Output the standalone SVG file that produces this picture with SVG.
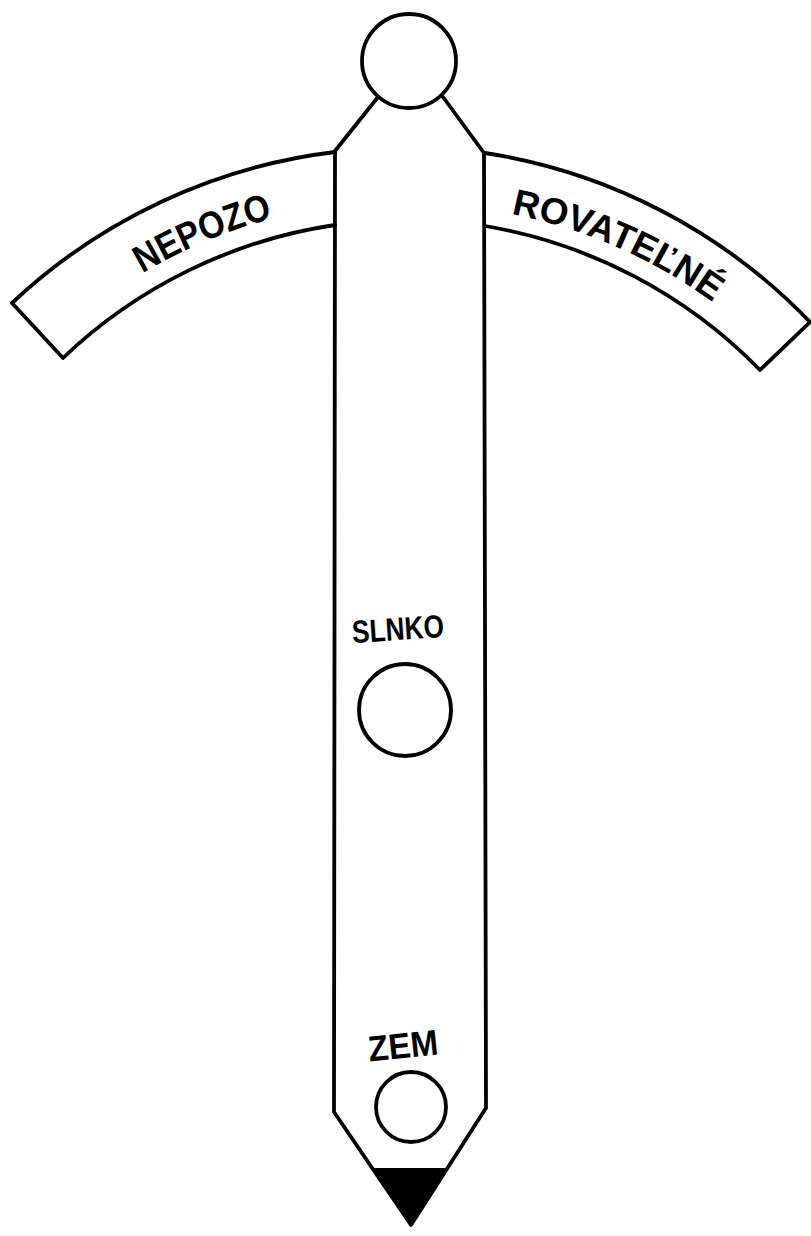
<svg xmlns="http://www.w3.org/2000/svg" width="811" height="1236" viewBox="0 0 811 1236">
<style>
.ln{fill:none;stroke:#000;stroke-width:3.8;stroke-linejoin:round;stroke-linecap:round}
.lbl{font-family:"Liberation Sans",Arial,sans-serif;font-weight:bold;fill:#000}
</style>
<defs>
<path id="baseL" d="M -44.7 462.5 A 525 525 0 0 1 864.7 462.5"/>
<path id="baseR" d="M -36.9 462 A 516 516 0 0 1 856.9 462"/>
</defs>
<rect width="811" height="1236" fill="#fff"/>
<g id="scale-left">
<path class="ln" d="M 335 152 A 572 572 0 0 0 12 303 L 63 358 A 500 500 0 0 1 335 225"/>
<text class="lbl" font-size="38"><textPath href="#baseL" startOffset="340" text-anchor="middle" textLength="142" lengthAdjust="spacingAndGlyphs">NEPOZO</textPath></text>
</g>
<g id="scale-right">
<path class="ln" d="M 485 153 A 572 572 0 0 1 810 322 L 760 370 A 500 500 0 0 0 485 226"/>
<text class="lbl" font-size="37"><textPath href="#baseR" startOffset="753" text-anchor="middle" textLength="222" lengthAdjust="spacingAndGlyphs">ROVATEĽNÉ</textPath></text>
</g>
<g id="pointer">
<path class="ln" d="M 378 97 L 335 151 L 334 1112 L 411 1225 L 486 1108 L 484 153 L 443 97"/>
</g>
<g id="top-knob">
<circle class="ln" cx="409" cy="61" r="47"/>
</g>
<g id="tip">
<polygon points="372,1168 447,1168 411,1225" fill="#000"/>
</g>
<g id="sun">
<text class="lbl" font-size="32" x="398" y="640" text-anchor="middle" textLength="92" lengthAdjust="spacingAndGlyphs" transform="rotate(-4 398 630)">SLNKO</text>
<circle class="ln" cx="405" cy="710" r="46"/>
</g>
<g id="earth">
<text class="lbl" font-size="36" x="403" y="1058" text-anchor="middle" textLength="70" lengthAdjust="spacingAndGlyphs" transform="rotate(-6 403 1045)">ZEM</text>
<circle class="ln" cx="411" cy="1107" r="35"/>
</g>
</svg>
